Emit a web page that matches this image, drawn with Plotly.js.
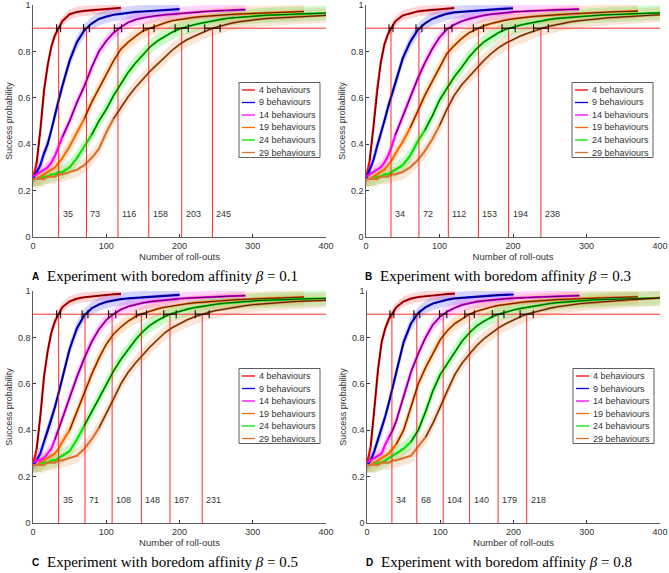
<!DOCTYPE html>
<html>
<head>
<meta charset="utf-8">
<script src="https://cdn.plot.ly/plotly-3.0.1.min.js"></script>
<style>
  body { margin: 0; background: #fff; }
  #chart { width: 669px; height: 573px; }
</style>
</head>
<body>
<div id="chart"></div>
<script>
// roll-out grid shared by all curves (each curve stops at its own length)
const XS = [0, 5, 10, 15, 20, 25, 30, 35, 40, 50, 60, 70, 80, 90, 100, 110, 120, 130, 140, 150,
  160, 170, 180, 190, 200, 210, 220, 230, 240, 250, 260, 270, 280, 290, 300, 310, 320, 330,
  340, 350, 360, 370, 380, 390, 400];

const names = ['4 behaviours', '9 behaviours', '14 behaviours', '19 behaviours', '24 behaviours', '29 behaviours'];
const colors = ['#ff0000', '#0000ff', '#ff00ff', '#ff6a00', '#00e600', '#d9742e'];
const bandColors = ['rgba(255,0,0,0.16)', 'rgba(0,0,255,0.17)', 'rgba(255,0,255,0.17)',
  'rgba(255,120,20,0.2)', 'rgba(0,230,0,0.2)', 'rgba(235,150,90,0.24)'];
const bandHalf = [0.022, 0.028, 0.028, 0.032, 0.032, 0.032];

// panel A, beta = 0.1
const a4 = [0.25, 0.32, 0.46, 0.63, 0.74, 0.82, 0.87, 0.90, 0.93, 0.96, 0.97, 0.975, 0.978, 0.98, 0.983, 0.986, 0.988];
const a9 = [0.25, 0.28, 0.31, 0.36, 0.40, 0.46, 0.53, 0.59, 0.65, 0.76, 0.84, 0.89, 0.92, 0.94, 0.95, 0.958, 0.962,
  0.967, 0.97, 0.972, 0.974, 0.976, 0.978, 0.98, 0.982];
const a14 = [0.26, 0.27, 0.28, 0.29, 0.30, 0.32, 0.35, 0.39, 0.43, 0.50, 0.58, 0.65, 0.73, 0.80, 0.845, 0.88, 0.905,
  0.925, 0.937, 0.945, 0.95, 0.955, 0.958, 0.961, 0.964, 0.966, 0.969, 0.971, 0.973, 0.975, 0.976, 0.977, 0.978, 0.98];
const a19 = [0.25, 0.25, 0.26, 0.27, 0.28, 0.29, 0.30, 0.32, 0.34, 0.39, 0.45, 0.51, 0.58, 0.64, 0.70, 0.76, 0.81,
  0.84, 0.865, 0.888, 0.90, 0.913, 0.923, 0.932, 0.938, 0.943, 0.947, 0.95, 0.953, 0.955, 0.957, 0.959, 0.961,
  0.962, 0.964, 0.965, 0.966, 0.967, 0.969, 0.97, 0.971, 0.972];
const a24 = [0.25, 0.25, 0.25, 0.26, 0.26, 0.27, 0.27, 0.28, 0.28, 0.30, 0.34, 0.39, 0.44, 0.50, 0.55, 0.61, 0.66,
  0.71, 0.75, 0.785, 0.82, 0.845, 0.865, 0.883, 0.897, 0.907, 0.915, 0.922, 0.929, 0.935, 0.94, 0.944, 0.947,
  0.95, 0.952, 0.954, 0.956, 0.957, 0.959, 0.96, 0.961, 0.962, 0.963, 0.964, 0.965];
const a29 = [0.25, 0.25, 0.25, 0.25, 0.26, 0.26, 0.26, 0.27, 0.27, 0.28, 0.29, 0.31, 0.34, 0.38, 0.45, 0.51, 0.56,
  0.605, 0.645, 0.68, 0.715, 0.745, 0.775, 0.805, 0.83, 0.85, 0.865, 0.88, 0.893, 0.904, 0.913, 0.921, 0.927,
  0.932, 0.936, 0.939, 0.942, 0.944, 0.946, 0.948, 0.95, 0.951, 0.952, 0.954, 0.955];

// panel B, beta = 0.3
const b4 = [0.25, 0.33, 0.47, 0.63, 0.75, 0.83, 0.875, 0.905, 0.93, 0.955, 0.965, 0.972, 0.976, 0.979, 0.982, 0.985, 0.987];
const b9 = [0.25, 0.29, 0.33, 0.39, 0.44, 0.50, 0.56, 0.61, 0.66, 0.77, 0.84, 0.89, 0.92, 0.94, 0.952, 0.962, 0.968,
  0.971, 0.974, 0.976, 0.978, 0.98, 0.982, 0.984, 0.986];
const b14 = [0.26, 0.27, 0.28, 0.29, 0.30, 0.32, 0.35, 0.39, 0.44, 0.52, 0.60, 0.68, 0.75, 0.81, 0.86, 0.895, 0.915,
  0.93, 0.94, 0.948, 0.955, 0.96, 0.964, 0.967, 0.97, 0.972, 0.974, 0.976, 0.977, 0.978, 0.979, 0.98, 0.981, 0.982];
const b19 = [0.25, 0.25, 0.26, 0.27, 0.28, 0.29, 0.31, 0.33, 0.36, 0.41, 0.47, 0.54, 0.61, 0.67, 0.73, 0.79, 0.825,
  0.855, 0.88, 0.895, 0.91, 0.92, 0.928, 0.935, 0.94, 0.945, 0.948, 0.951, 0.954, 0.956, 0.958, 0.96, 0.962,
  0.964, 0.965, 0.967, 0.968, 0.969, 0.971, 0.972, 0.973, 0.974];
const b24 = [0.25, 0.25, 0.25, 0.26, 0.26, 0.27, 0.27, 0.28, 0.29, 0.31, 0.35, 0.41, 0.46, 0.52, 0.59, 0.64, 0.69,
  0.73, 0.775, 0.81, 0.84, 0.86, 0.88, 0.895, 0.905, 0.913, 0.92, 0.927, 0.933, 0.938, 0.942, 0.945, 0.948,
  0.951, 0.953, 0.955, 0.957, 0.958, 0.96, 0.961, 0.962, 0.963, 0.964, 0.965, 0.966];
const b29 = [0.25, 0.25, 0.25, 0.25, 0.26, 0.26, 0.26, 0.27, 0.27, 0.28, 0.30, 0.33, 0.37, 0.42, 0.48, 0.55, 0.61,
  0.655, 0.69, 0.725, 0.76, 0.79, 0.815, 0.835, 0.852, 0.866, 0.878, 0.89, 0.90, 0.909, 0.916, 0.922, 0.928,
  0.932, 0.936, 0.939, 0.942, 0.945, 0.947, 0.949, 0.951, 0.953, 0.955, 0.957, 0.958];

// panel C, beta = 0.5
const c4 = [0.25, 0.32, 0.46, 0.63, 0.74, 0.82, 0.87, 0.90, 0.93, 0.955, 0.967, 0.973, 0.977, 0.98, 0.983, 0.986, 0.988];
const c9 = [0.25, 0.27, 0.30, 0.35, 0.39, 0.44, 0.50, 0.56, 0.62, 0.75, 0.84, 0.895, 0.925, 0.942, 0.953, 0.96, 0.965,
  0.968, 0.971, 0.973, 0.975, 0.977, 0.979, 0.981, 0.983];
const c14 = [0.26, 0.27, 0.27, 0.28, 0.30, 0.32, 0.36, 0.41, 0.45, 0.54, 0.63, 0.71, 0.78, 0.835, 0.875, 0.90, 0.92,
  0.933, 0.942, 0.949, 0.954, 0.958, 0.962, 0.965, 0.967, 0.969, 0.971, 0.973, 0.974, 0.976, 0.977, 0.978, 0.979, 0.98];
const c19 = [0.25, 0.25, 0.26, 0.27, 0.28, 0.29, 0.30, 0.32, 0.35, 0.40, 0.48, 0.56, 0.64, 0.71, 0.77, 0.815, 0.845,
  0.87, 0.89, 0.903, 0.914, 0.923, 0.93, 0.936, 0.941, 0.945, 0.949, 0.952, 0.954, 0.957, 0.959, 0.961, 0.963,
  0.964, 0.966, 0.967, 0.968, 0.97, 0.971, 0.972, 0.973, 0.974];
const c24 = [0.25, 0.25, 0.25, 0.26, 0.26, 0.27, 0.27, 0.28, 0.29, 0.31, 0.36, 0.42, 0.48, 0.54, 0.60, 0.655, 0.705,
  0.75, 0.79, 0.825, 0.853, 0.873, 0.89, 0.903, 0.913, 0.921, 0.928, 0.934, 0.939, 0.943, 0.947, 0.95, 0.953,
  0.955, 0.957, 0.959, 0.96, 0.962, 0.963, 0.964, 0.965, 0.966, 0.966, 0.967, 0.968];
const c29 = [0.25, 0.25, 0.25, 0.25, 0.26, 0.26, 0.26, 0.27, 0.27, 0.28, 0.29, 0.32, 0.36, 0.41, 0.47, 0.535, 0.60,
  0.65, 0.69, 0.725, 0.76, 0.79, 0.82, 0.842, 0.86, 0.875, 0.888, 0.899, 0.908, 0.916, 0.922, 0.928, 0.933,
  0.937, 0.941, 0.944, 0.947, 0.949, 0.951, 0.953, 0.955, 0.957, 0.958, 0.959, 0.96];

// panel D, beta = 0.8
const d4 = [0.25, 0.33, 0.49, 0.66, 0.78, 0.84, 0.88, 0.905, 0.93, 0.955, 0.967, 0.974, 0.978, 0.981, 0.984, 0.987, 0.989];
const d9 = [0.25, 0.27, 0.31, 0.36, 0.40, 0.46, 0.52, 0.59, 0.65, 0.78, 0.86, 0.905, 0.93, 0.946, 0.956, 0.963, 0.968,
  0.971, 0.974, 0.976, 0.978, 0.98, 0.982, 0.983, 0.985];
const d14 = [0.26, 0.27, 0.28, 0.29, 0.30, 0.34, 0.37, 0.40, 0.44, 0.55, 0.65, 0.73, 0.80, 0.855, 0.89, 0.912, 0.928,
  0.94, 0.948, 0.954, 0.958, 0.962, 0.965, 0.967, 0.969, 0.971, 0.972, 0.973, 0.975, 0.976, 0.977, 0.978, 0.979, 0.98];
const d19 = [0.25, 0.25, 0.26, 0.27, 0.28, 0.29, 0.30, 0.32, 0.34, 0.40, 0.50, 0.60, 0.67, 0.73, 0.79, 0.83, 0.86,
  0.88, 0.90, 0.913, 0.923, 0.931, 0.938, 0.943, 0.947, 0.951, 0.954, 0.957, 0.959, 0.961, 0.963, 0.964, 0.966,
  0.967, 0.968, 0.969, 0.97, 0.971, 0.972, 0.973, 0.974, 0.975];
const d24 = [0.25, 0.25, 0.25, 0.26, 0.26, 0.27, 0.28, 0.29, 0.30, 0.32, 0.35, 0.40, 0.48, 0.57, 0.64, 0.69, 0.74,
  0.785, 0.82, 0.85, 0.87, 0.888, 0.90, 0.91, 0.918, 0.925, 0.931, 0.937, 0.942, 0.946, 0.95, 0.953, 0.956,
  0.958, 0.96, 0.962, 0.963, 0.964, 0.965, 0.966, 0.967, 0.968, 0.969, 0.97, 0.97];
const d29 = [0.25, 0.25, 0.25, 0.25, 0.26, 0.26, 0.26, 0.27, 0.27, 0.28, 0.29, 0.33, 0.37, 0.43, 0.50, 0.575, 0.64,
  0.69, 0.73, 0.765, 0.795, 0.82, 0.842, 0.86, 0.876, 0.89, 0.902, 0.911, 0.919, 0.926, 0.932, 0.937, 0.941,
  0.945, 0.948, 0.951, 0.954, 0.956, 0.958, 0.96, 0.962, 0.964, 0.966, 0.968, 0.97];

// roll-outs needed to reach 0.9, their spread, and where the fitted curve starts
const thrA = [35, 73, 116, 158, 203, 245];
const thrB = [34, 72, 112, 153, 194, 238];
const thrC = [35, 71, 108, 148, 187, 231];
const thrD = [34, 68, 104, 140, 179, 218];
const errA = [2.7, 4, 5, 7.3, 9, 10.5];
const errB = [2.7, 4, 5, 7, 9, 10];
const errC = [2.7, 4, 5, 7, 8.5, 9.5];
const errD = [2.7, 4, 5, 6.5, 8, 9];
const fitA = [4, 16, 42, 65, 83, 106];
const fitB = [4, 14, 39, 59, 78, 98];
const fitC = [4, 17, 33, 51, 65, 92];
const fitD = [4, 13, 29, 43, 59, 75];
const letters = ['A', 'B', 'C', 'D'];
const betas = ['0.1', '0.3', '0.5', '0.8'];

const panels = [
  { series: [a4, a9, a14, a19, a24, a29], thr: thrA, err: errA, fit: fitA },
  { series: [b4, b9, b14, b19, b24, b29], thr: thrB, err: errB, fit: fitB },
  { series: [c4, c9, c14, c19, c24, c29], thr: thrC, err: errC, fit: fitC },
  { series: [d4, d9, d14, d19, d24, d29], thr: thrD, err: errD, fit: fitD },
];

const W = 669, H = 573;
// plot boxes in pixels: left, right, top, bottom
const boxes = [[33, 326, 5, 237], [366, 660, 5, 237], [33, 326, 291, 523], [367, 660, 291, 523]];
const captionY = [276, 276, 562, 562];
const FONT = 'Liberation Sans, Arial, sans-serif';
const INK = '#333333';

const traces = [];
const annotations = [];
const shapes = [];
const layout = {
  width: W, height: H,
  margin: { l: 0, r: 0, t: 0, b: 0 },
  paper_bgcolor: '#fff', plot_bgcolor: 'rgba(0,0,0,0)',
  showlegend: false,
  font: { family: FONT, size: 9, color: INK },
};

const px = v => v / W;
const py = v => 1 - v / H;

panels.forEach((p, k) => {
  const sfx = k ? String(k + 1) : '';
  const xa = 'x' + sfx, ya = 'y' + sfx;
  const [L, R, T, B] = boxes[k];

  layout['xaxis' + sfx] = {
    domain: [px(L), px(R)], anchor: ya, range: [0, 400],
    tickvals: [0, 100, 200, 300, 400], ticks: 'inside', ticklen: 3, tickcolor: INK,
    showline: true, linecolor: INK, linewidth: 0.8, showgrid: false, zeroline: false,
    tickfont: { size: 9, color: INK },
    title: { text: 'Number of roll-outs', font: { size: 9.5, color: INK }, standoff: 2 },
  };
  layout['yaxis' + sfx] = {
    domain: [py(B), py(T)], anchor: xa, range: [0, 1],
    tickvals: [0, 0.2, 0.4, 0.6, 0.8, 1], ticktext: ['0', '0.2', '0.4', '0.6', '0.8', '1'],
    ticks: 'inside', ticklen: 3, tickcolor: INK,
    showline: true, linecolor: INK, linewidth: 0.8, showgrid: false, zeroline: false,
    tickfont: { size: 9, color: INK },
    title: { text: 'Success probability', font: { size: 9, color: INK }, standoff: 3 },
  };

  // shaded spread around each mean curve
  p.series.forEach((ys, i) => {
    const xs = XS.slice(0, ys.length);
    const up = ys.map(v => Math.min(v + bandHalf[i], 1));
    const lo = ys.map(v => v - bandHalf[i]);
    traces.push({
      x: xs.concat(xs.slice().reverse()), y: up.concat(lo.slice().reverse()),
      xaxis: xa, yaxis: ya, mode: 'lines', fill: 'toself', fillcolor: bandColors[i],
      line: { width: 0 }, hoverinfo: 'skip',
    });
  });

  // mean curves
  p.series.forEach((ys, i) => {
    traces.push({
      x: XS.slice(0, ys.length), y: ys, xaxis: xa, yaxis: ya,
      mode: 'lines', name: names[i], line: { color: colors[i], width: 2.2 },
    });
  });

  // 0.9 threshold and the crossing roll-outs
  traces.push({
    x: [0, 400], y: [0.9, 0.9], xaxis: xa, yaxis: ya, mode: 'lines',
    line: { color: '#ff2a2a', width: 1 }, hoverinfo: 'skip',
  });
  const vx = [], vy = [];
  p.thr.forEach(t => { vx.push(t, t, null); vy.push(0, 0.9, null); });
  traces.push({
    x: vx, y: vy, xaxis: xa, yaxis: ya, mode: 'lines',
    line: { color: '#ff2a2a', width: 1 }, hoverinfo: 'skip',
  });

  // fitted curves
  p.series.forEach((ys, i) => {
    const xs = XS.slice(0, ys.length);
    const s = xs.findIndex(x => x >= p.fit[i] - 3);
    traces.push({
      x: xs.slice(s), y: ys.slice(s), xaxis: xa, yaxis: ya,
      mode: 'lines', line: { color: '#000', width: 0.7 }, hoverinfo: 'skip',
    });
  });

  // spread of the crossing point
  traces.push({
    x: p.thr, y: p.thr.map(() => 0.9), xaxis: xa, yaxis: ya, mode: 'markers',
    marker: { size: 1, color: '#000' },
    error_x: { type: 'data', array: p.err, color: '#000', thickness: 1, width: 4 },
  });

  p.thr.forEach(t => {
    annotations.push({
      x: t, y: 0.1, xref: xa, yref: ya, text: String(t), showarrow: false,
      xanchor: 'left', yanchor: 'middle', xshift: 2, font: { size: 9, color: INK },
    });
  });

  // legend box
  shapes.push({
    type: 'rect', xref: 'paper', yref: 'paper',
    x0: px(L + 206), x1: px(L + 287), y0: py(T + 152.5), y1: py(T + 77.5),
    line: { color: INK, width: 0.8 }, fillcolor: '#fff', layer: 'above',
  });
  names.forEach((nm, i) => {
    const yc = T + 85 + i * 12.5;
    shapes.push({
      type: 'line', xref: 'paper', yref: 'paper', layer: 'above',
      x0: px(L + 209), x1: px(L + 222), y0: py(yc), y1: py(yc),
      line: { color: colors[i], width: 1.3 },
    });
    annotations.push({
      x: px(L + 223.5), y: py(yc), xref: 'paper', yref: 'paper', text: nm, showarrow: false,
      xanchor: 'left', yanchor: 'middle', font: { size: 9, color: INK },
    });
  });

  // caption
  annotations.push({
    x: px(L - 3), y: py(captionY[k]), xref: 'paper', yref: 'paper', text: '<b>' + letters[k] + '</b>',
    showarrow: false, xanchor: 'left', yanchor: 'middle', font: { family: FONT, size: 10, color: '#000' },
  });
  annotations.push({
    x: px(L + 12), y: py(captionY[k]), xref: 'paper', yref: 'paper',
    text: 'Experiment with boredom affinity <i>β</i> = ' + betas[k],
    showarrow: false, xanchor: 'left', yanchor: 'middle',
    font: { family: 'Liberation Serif, Times New Roman, serif', size: 15, color: '#000' },
  });
});

layout.annotations = annotations;
layout.shapes = shapes;

Plotly.newPlot('chart', traces, layout, { displayModeBar: false, staticPlot: true });
</script>
</body>
</html>
